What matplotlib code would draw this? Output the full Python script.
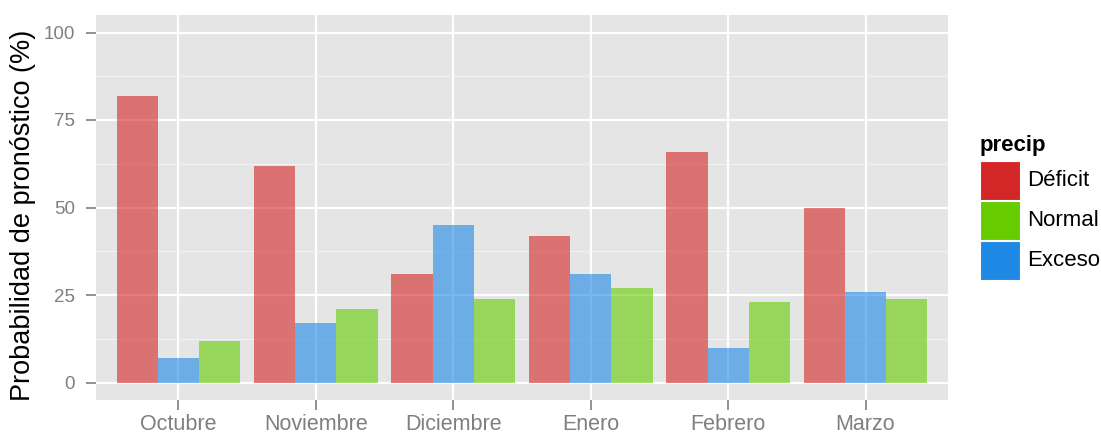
import matplotlib
matplotlib.use("Agg")
import matplotlib.pyplot as plt
from matplotlib.patches import Rectangle
import numpy as np

plt.rcParams['font.family'] = ['Liberation Sans', 'DejaVu Sans']

months = ["Octubre", "Noviembre", "Diciembre", "Enero", "Febrero", "Marzo"]
deficit = [82, 62, 31, 42, 66, 50]
exceso = [7, 17, 45, 31, 10, 26]
normal = [12, 21, 24, 27, 23, 24]

series_order = [("Déficit", deficit, "#D32626"),
                ("Exceso", exceso, "#1E88E5"),
                ("Normal", normal, "#66CC00")]
legend_order = [("Déficit", "#D32626"), ("Normal", "#66CC00"), ("Exceso", "#1E88E5")]

fig = plt.figure(figsize=(11.01, 4.33), dpi=100)
ax = fig.add_axes([96/1101, 1-400/433, (948-96)/1101, (400-15)/433])
ax.set_facecolor("#E5E5E5")

x = np.arange(1, len(months)+1)
w = 0.3
for i, (name, vals, col) in enumerate(series_order):
    ax.bar(x + (i-1)*w, vals, width=w, color=col, alpha=0.6, linewidth=0, zorder=3)

ax.set_xlim(0.4, 6.6)
ax.set_ylim(-5, 105)
ax.set_yticks([0, 25, 50, 75, 100])
ax.set_yticks([12.5, 37.5, 62.5, 87.5], minor=True)
ax.set_xticks(x)
ax.set_xticklabels(months)
ax.grid(which='major', color='white', linewidth=1.6, zorder=0)
ax.grid(which='minor', axis='y', color='#F2F2F2', linewidth=0.8, zorder=0)
ax.set_axisbelow(True)
for s in ax.spines.values():
    s.set_visible(False)
ax.tick_params(axis='both', which='major', colors='#7F7F7F', length=7, width=1.2)
ax.tick_params(axis='y', labelsize=13.5, pad=8)
ax.tick_params(axis='x', labelsize=15.5, pad=3)
ax.tick_params(which='minor', length=0)
for lab in ax.get_xticklabels() + ax.get_yticklabels():
    lab.set_color('#7F7F7F')
ax.set_ylabel("Probabilidad de pronóstico (%)", fontsize=19.5, color='black')
ax.yaxis.set_label_coords((36-96)/852, (400-215)/385)

# legend
fig.text(980/1101, 1-145/433, "precip", fontsize=16, fontweight='bold', va='center', ha='left')
for j, (name, col) in enumerate(legend_order):
    y0 = 160 + j*40
    fig.add_artist(Rectangle((980/1101, 1-(y0+40)/433), 40/1101, 39/433,
                             transform=fig.transFigure, facecolor=col, edgecolor='white', linewidth=0.8))
    fig.text(1027/1101, 1-(y0+20)/433, name, fontsize=16, va='center', ha='left')

fig.savefig("out.png", dpi=100)
